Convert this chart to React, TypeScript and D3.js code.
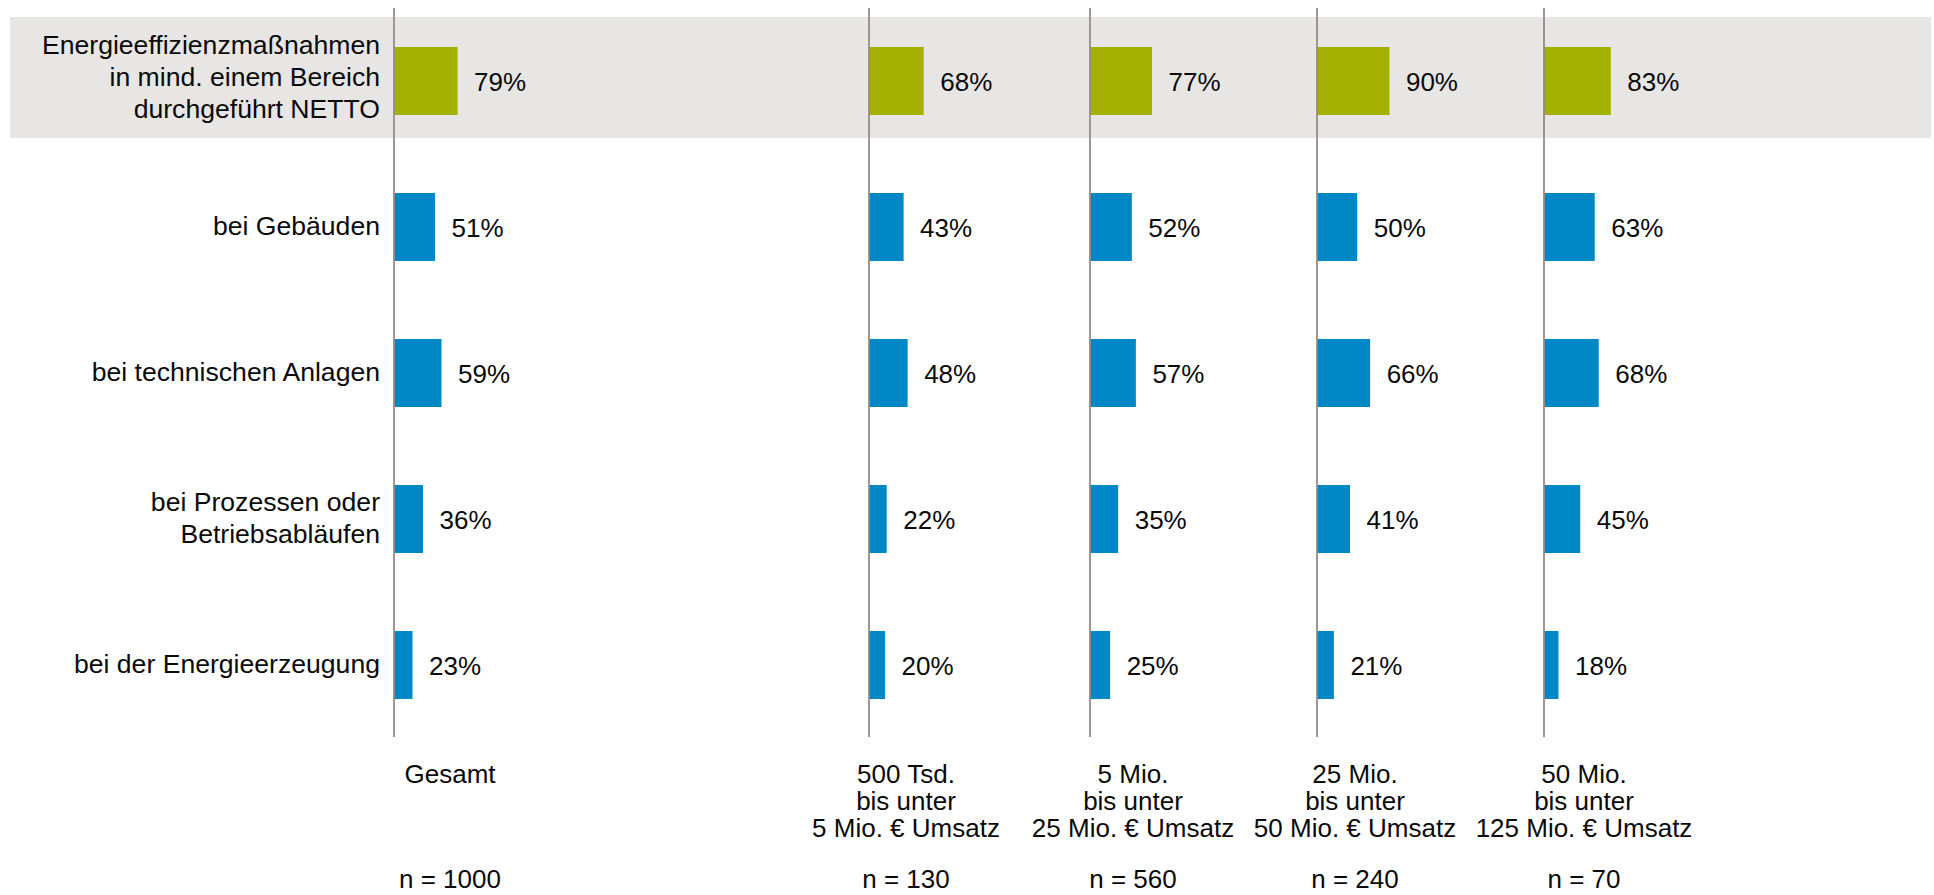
import React from "react";
import * as d3 from "d3";

// ---------- data ----------
const rowKeys = ["netto", "gebaeude", "anlagen", "prozesse", "erzeugung"];
const rowLabels: string[][] = [
  ["Energieeffizienzmaßnahmen", "in mind. einem Bereich", "durchgeführt NETTO"],
  ["bei Gebäuden"],
  ["bei technischen Anlagen"],
  ["bei Prozessen oder", "Betriebsabläufen"],
  ["bei der Energieerzeugung"],
];

const columnKeys = ["gesamt", "s500", "s5", "s25", "s50"];
const columnLabels: string[][] = [
  ["Gesamt"],
  ["500 Tsd.", "bis unter", "5 Mio. € Umsatz"],
  ["5 Mio.", "bis unter", "25 Mio. € Umsatz"],
  ["25 Mio.", "bis unter", "50 Mio. € Umsatz"],
  ["50 Mio.", "bis unter", "125 Mio. € Umsatz"],
];
const sampleSizes = ["n = 1000", "n = 130", "n = 560", "n = 240", "n = 70"];

const valuesGesamt = [79, 51, 59, 36, 23];
const values500Tsd = [68, 43, 48, 22, 20];
const values5Mio = [77, 52, 57, 35, 25];
const values25Mio = [90, 50, 66, 41, 21];
const values50Mio = [83, 63, 68, 45, 18];
const seriesValues = [valuesGesamt, values500Tsd, values5Mio, values25Mio, values50Mio];

// ---------- layout ----------
const W = 1934;
const H = 895;
const FONT = "'Liberation Sans', Arial, Helvetica, sans-serif";
const GREEN = "#a3b000";
const BLUE = "#0088c6";
const BAND = "#e7e6e4";
const AXIS = "#978b87";

const colX = d3.scaleOrdinal<string, number>().domain(columnKeys).range([394, 869, 1090, 1317, 1544]);
const colLabelX = d3.scaleOrdinal<string, number>().domain(columnKeys).range([450, 906, 1133, 1355, 1584]);
const y = d3.scalePoint<string>().domain(rowKeys).range([81, 665]);
const barLen = d3.scaleLinear().domain([0, 100]).range([0, 80.5]);
const barH = 68;

export default function App() {
  const rowLineH = 31.8;
  const colLineH = 27;
  return (
    <svg
      width={W}
      height={H}
      style={{ position: "absolute", left: 0, top: 0, display: "block", background: "#fff" }}
      fontFamily={FONT}
    >
      {/* highlight band */}
      <rect x={10} y={(y(rowKeys[0]) as number) - 64} width={W - 13} height={121} fill={BAND} />

      {/* row labels */}
      {rowKeys.map((k, i) => {
        const lines = rowLabels[i];
        const cy = (y(k) as number) - (i === 0 ? 3 : 0);
        return (
          <text key={k} x={380} textAnchor="end" fontSize={26.6} fill="#0a0a0a">
            {lines.map((l, j) => (
              <tspan key={j} x={380} y={cy + 8 + (j - (lines.length - 1) / 2) * rowLineH}>
                {l}
              </tspan>
            ))}
          </text>
        );
      })}

      {/* bars + value labels */}
      {columnKeys.map((c, ci) => (
        <g key={c}>
          {rowKeys.map((r, ri) => {
            const v = seriesValues[ci][ri];
            const x0 = colX(c);
            const cy = y(r) as number;
            return (
              <g key={r}>
                <rect x={x0} y={cy - barH / 2} width={barLen(v)} height={barH} fill={ri === 0 ? GREEN : BLUE} />
                <text x={x0 + barLen(v) + 16.5} y={cy + 9.5} fontSize={26} fill="#0a0a0a">
                  {v}%
                </text>
              </g>
            );
          })}
          <line x1={colX(c)} x2={colX(c)} y1={8} y2={737} stroke={AXIS} strokeWidth={1.8} />
        </g>
      ))}

      {/* column labels */}
      {columnKeys.map((c, ci) => (
        <g key={c}>
          <text textAnchor="middle" fontSize={26} fill="#0a0a0a">
            {columnLabels[ci].map((l, j) => (
              <tspan key={j} x={colLabelX(c)} y={782.5 + j * colLineH}>
                {l}
              </tspan>
            ))}
          </text>
          <text x={colLabelX(c)} y={888} textAnchor="middle" fontSize={26} fill="#0a0a0a">
            {sampleSizes[ci]}
          </text>
        </g>
      ))}
    </svg>
  );
}
